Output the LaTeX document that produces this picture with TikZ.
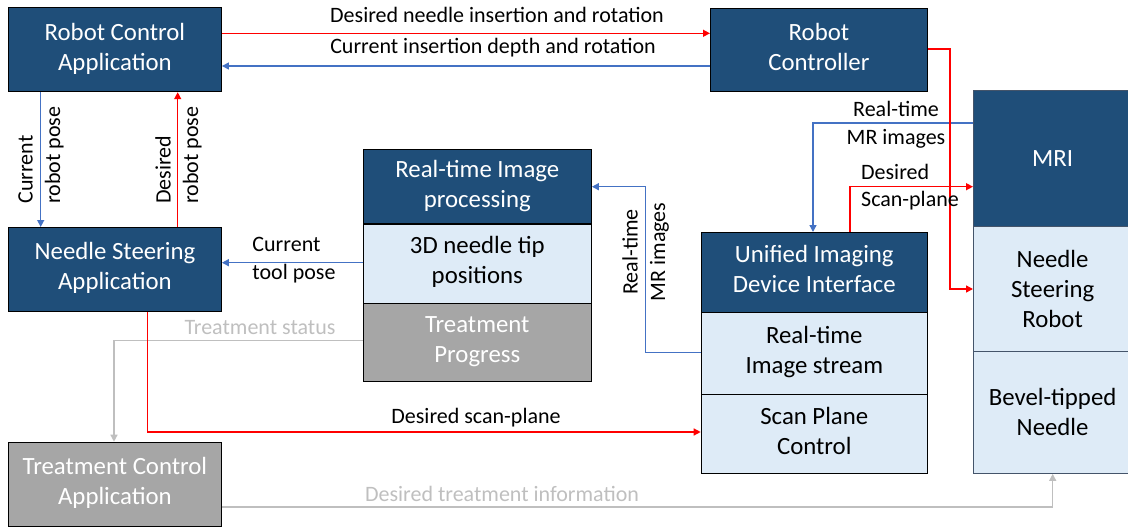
\documentclass[tikz,border=0pt]{standalone}
\usepackage{fontspec}
\setmainfont{Carlito}
\usetikzlibrary{arrows.meta,calc}
\definecolor{dkblue}{HTML}{1F4E79}
\definecolor{ltblue}{HTML}{DEEBF7}
\definecolor{gbox}{HTML}{A6A6A6}
\definecolor{lnblue}{HTML}{4472C4}
\definecolor{lngray}{HTML}{BFBFBF}
\definecolor{mriedge}{HTML}{44546A}
\begin{document}
\begin{tikzpicture}[x=1pt,y=-1pt,
 box/.style={draw=black, line width=1.2pt, anchor=north west, inner sep=0pt, align=center, text depth=6.5pt, font=\fontsize{24.8}{30}\selectfont},
 dark/.style={box, fill=dkblue, text=white},
 light/.style={box, fill=ltblue, text=black},
 grey/.style={box, fill=gbox, text=white},
 lbl/.style={font=\fontsize{22}{27.5}\selectfont, inner sep=0pt, align=center},
 tip/.style={-{Triangle[length=7pt,width=7pt]}},
 rl/.style={draw=red, line width=1.4pt},
 bl/.style={draw=lnblue, line width=1.4pt},
 gl/.style={draw=lngray, line width=1.4pt},
]
\useasboundingbox (0,0) rectangle (1128,527);
% boxes
\node[dark, minimum width=212.7pt, minimum height=83.7pt] (rca) at (8,7.3) {Robot Control\\Application};
\node[dark, minimum width=216.7pt, minimum height=83pt] (rc) at (710,8) {Robot\\Controller};
\node[dark, minimum width=212.7pt, minimum height=83.7pt] (nsa) at (8,227) {Needle Steering\\Application};
\node[grey, minimum width=212.7pt, minimum height=84pt] (tca) at (8,441.7) {Treatment Control\\Application};
\node[dark, minimum width=228pt, minimum height=74.3pt] (rtip) at (362.7,149) {Real-time Image\\processing};
\node[light, minimum width=228pt, minimum height=79.4pt] (tip3d) at (362.7,223.3) {3D needle tip\\positions};
\node[grey, minimum width=228pt, minimum height=78pt] (tprog) at (362.7,302.7) {Treatment\\Progress};
\node[dark, minimum width=226pt, minimum height=80pt] (uidi) at (700.7,232) {Unified Imaging\\Device Interface};
\node[light, minimum width=226pt, minimum height=82pt] (ris) at (700.7,312) {Real-time\\Image stream};
\node[light, minimum width=226pt, minimum height=79pt] (spc) at (700.7,394) {Scan Plane\\Control};
\node[dark, draw=mriedge, text depth=0pt, minimum width=158pt, minimum height=136pt] (mri) at (973,90) {MRI};
\node[light, draw=mriedge, text depth=0pt, minimum width=158pt, minimum height=124.7pt] (nsr) at (973,226) {Needle\\Steering\\Robot};
\node[light, draw=mriedge, text depth=0pt, minimum width=158pt, minimum height=122pt] (btn) at (973,350.7) {Bevel-tipped\\Needle};
% helper coordinates
\coordinate (yA) at (0,33.3);
\coordinate (yB) at (0,66);
\coordinate (xC) at (40.7,0);
\coordinate (xD) at (177.7,0);
\coordinate (yE) at (0,262.7);
\coordinate (yF) at (0,340.7);
\coordinate (xF) at (114,0);
\coordinate (xG) at (147.7,0);
\coordinate (yG) at (0,432);
\coordinate (xH) at (645.7,0);
\coordinate (yH1) at (0,352.7);
\coordinate (yH2) at (0,186.7);
\coordinate (yI) at (0,123);
\coordinate (xI) at (813,0);
\coordinate (xJ) at (850,0);
\coordinate (yJ) at (0,186.7);
\coordinate (yK1) at (0,49);
\coordinate (xK) at (950,0);
\coordinate (yK2) at (0,289);
\coordinate (yL) at (0,507);
\coordinate (xL) at (1052.7,0);
% connectors
\draw[rl,tip] (rca.east|-yA) -- (rc.west|-yA);
\draw[bl,tip] (rc.west|-yB) -- (rca.east|-yB);
\draw[bl,tip] (rca.south-|xC) -- (nsa.north-|xC);
\draw[rl,tip] (nsa.north-|xD) -- (rca.south-|xD);
\draw[bl,tip] (tip3d.west|-yE) -- (nsa.east|-yE);
\draw[gl,tip] (tprog.west|-yF) -| (tca.north-|xF);
\draw[rl,tip] (nsa.south-|xG) |- (spc.west|-yG);
\draw[bl,tip] (ris.west|-yH1) -| (xH|-yH2) -- (rtip.east|-yH2);
\draw[bl,tip] (mri.west|-yI) -| (uidi.north-|xI);
\draw[rl,tip] (uidi.north-|xJ) |- (mri.west|-yJ);
\draw[rl,tip] (rc.east|-yK1) -| (xK|-yK2) -- (nsr.west|-yK2);
\draw[gl,tip] (tca.east|-yL) -| (btn.south-|xL);
% labels
\node[lbl] (l1) at (497,15) {Desired needle insertion and rotation};
\node[lbl] (l2) at (493,48) {Current insertion depth and rotation};
\node[lbl, align=left, rotate=90] (l3) at (41,155) {Current\\robot pose};
\node[lbl, align=left, rotate=90] (l4) at (178.5,155) {Desired\\robot pose};
\node[lbl, align=left] (l5) at (294,260) {Current\\tool pose};
\node[lbl, text=lngray] (l6) at (260,328) {Treatment status};
\node[lbl, rotate=90] (l7) at (645.5,252) {Real-time\\MR images};
\node[lbl] (l8) at (896,125) {Real-time\\MR images};
\node[lbl, align=left] (l9) at (910,187) {Desired\\Scan-plane};
\node[lbl] (l10) at (476,418) {Desired scan-plane};
\node[lbl, text=lngray] (l11) at (502,494) {Desired treatment information};
\end{tikzpicture}
\end{document}
